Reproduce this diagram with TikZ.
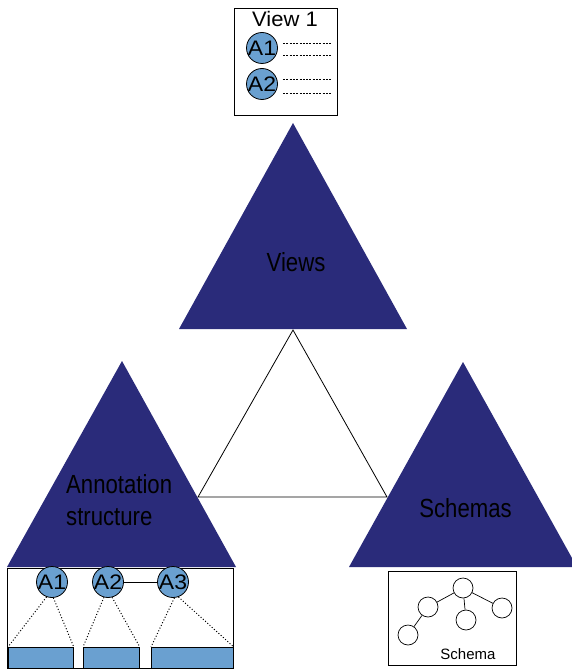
\documentclass[tikz,border=0pt]{standalone}
\usepackage{fontspec}
\setmainfont{Liberation Sans}
\definecolor{navy}{RGB}{42,43,122}
\definecolor{ablue}{RGB}{106,160,208}
\newcommand{\Alab}[1]{\scalebox{1.15}[1.05]{\fontsize{20}{20}\selectfont #1}}
\newcommand{\BigLab}[1]{\scalebox{1.03}[1.22]{\fontsize{21.5}{21.5}\selectfont #1}}
\begin{document}
\begin{tikzpicture}[x=1pt,y=-1pt,
  bigtri/.style={fill=navy},
  circ/.style={circle,draw=black,fill=ablue,minimum size=31pt,inner sep=0pt,line width=0.8pt},
  scirc/.style={circle,draw=black,fill=white,minimum size=20pt,inner sep=0pt,line width=0.7pt},
  bigtext/.style={anchor=base,inner sep=0pt},
  box/.style={draw=black,fill=white,line width=0.8pt},
  dots/.style={dotted,line width=1pt},
  dashes/.style={dash pattern=on 2pt off 1.3pt,line width=0.8pt},
  seg/.style={draw=black,fill=ablue,line width=0.8pt}
]
\useasboundingbox (0,0) rectangle (572,671);
% big triangles
\fill[bigtri] (293,123) -- (407,329) -- (179,329) -- cycle;
\fill[bigtri] (122,361) -- (236,567) -- (7,567) -- cycle;
\begin{scope}
\clip (0,0) rectangle (572,671);
\fill[bigtri] (463,362) -- (577,567) -- (349,567) -- cycle;
\end{scope}
% central white triangle
\draw[line width=0.8pt,fill=white] (293,330) -- (387,497) -- (198,497) -- cycle;
% texts
\node[bigtext] (tviews) at (296,271) {\BigLab{Views}};
\node[bigtext,anchor=base west] (tann1) at (66,493) {\BigLab{Annotation}};
\node[bigtext,anchor=base west] (tann2) at (66,525) {\BigLab{structure}};
\node[bigtext] (tschemas) at (465.5,517) {\BigLab{Schemas}};

% View 1 box
\draw[box] (234,8) rectangle (337,115);
\node[anchor=base,inner sep=0pt] (tview1) at (285,27) {\scalebox{1.1}[1.05]{\fontsize{20}{20}\selectfont View 1}};
\node[circ] (v1) at (262,48) {};
\node at (v1) {\Alab{A1}};
\node[circ] (v2) at (262,84) {};
\node at (v2) {\Alab{A2}};
\coordinate (d1a) at (283,43); \coordinate (d1b) at (332,43);
\coordinate (d2a) at (283,55); \coordinate (d2b) at (332,55);
\coordinate (d3a) at (283,79); \coordinate (d3b) at (332,79);
\coordinate (d4a) at (283,93); \coordinate (d4b) at (332,93);
\draw[dashes] (d1a) -- (d1b);
\draw[dashes] (d2a) -- (d2b);
\draw[dashes] (d3a) -- (d3b);
\draw[dashes] (d4a) -- (d4b);

% Annotation box
\draw[box] (7,568) rectangle (233,668);
\node[seg,minimum width=65pt,minimum height=21pt,inner sep=0pt,anchor=north west] (r1) at (8,647) {};
\node[seg,minimum width=56pt,minimum height=21pt,inner sep=0pt,anchor=north west] (r2) at (83,647) {};
\node[seg,minimum width=82pt,minimum height=21pt,inner sep=0pt,anchor=north west] (r3) at (151,647) {};
\node[circ] (a1) at (52,582) {};
\node[circ] (a2) at (108,582) {};
\node[circ] (a3) at (173,582) {};
\draw[line width=0.8pt] (a2) -- (a3);
\node at (a1) {\Alab{A1}};
\node at (a2) {\Alab{A2}};
\node at (a3) {\Alab{A3}};
\draw[dots] (a1.250) -- (r1.north west);
\draw[dots] (a1.275) -- (r1.north east);
\draw[dots] (a2.255) -- (r2.north west);
\draw[dots] (a2.285) -- (r2.north east);
\draw[dots] (a3.275) -- (r3.north west);
\draw[dots] (a3.290) -- (r3.north east);

% Schema box
\draw[box] (388,571) rectangle (516,665);
\node[scirc] (s0) at (463,588) {};
\node[scirc] (s1) at (428,607) {};
\node[scirc] (s2) at (466,620) {};
\node[scirc] (s3) at (502,608) {};
\node[scirc] (s4) at (408,635) {};
\draw[line width=0.7pt] (s0) -- (s1);
\draw[line width=0.7pt] (s0) -- (s2);
\draw[line width=0.7pt] (s0) -- (s3);
\draw[line width=0.7pt] (s1) -- (s4);
\node[font=\fontsize{15}{15}\selectfont,anchor=base] (tschema) at (468,659) {Schema};
\end{tikzpicture}
\end{document}
